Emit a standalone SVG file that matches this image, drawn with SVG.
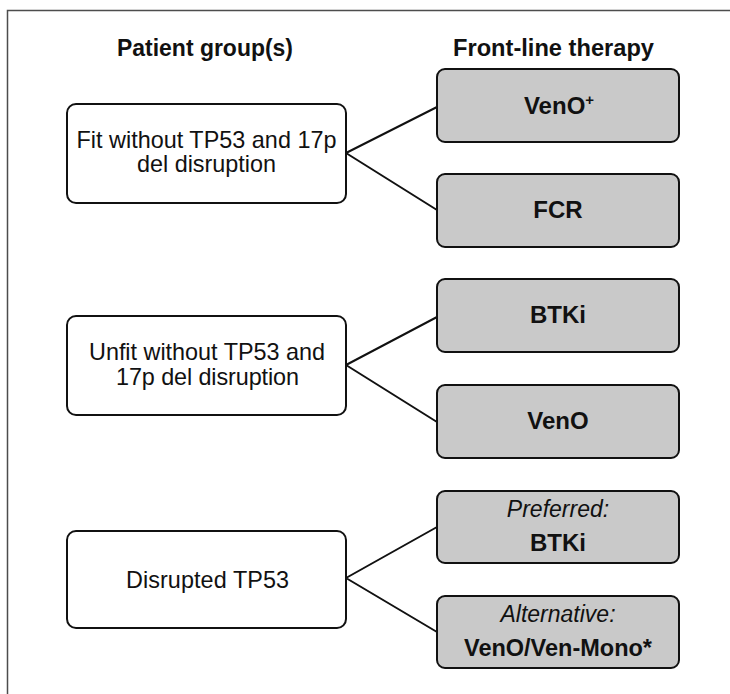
<svg xmlns="http://www.w3.org/2000/svg" width="730" height="694" viewBox="0 0 730 694">
<style>
.frame{fill:none;stroke:#4d4d4d;stroke-width:1.5}
.grp{fill:#ffffff;stroke:#111;stroke-width:2}
.thr{fill:#c9c9c9;stroke:#111;stroke-width:2}
.edge{fill:none;stroke:#111;stroke-width:2}
text{font-family:"Liberation Sans",Arial,sans-serif;fill:#111;text-anchor:middle}
.hdr{font-size:24.5px;font-weight:bold}
.lbl{font-size:23.4px}
.bld{font-size:24px;font-weight:bold}
.itl{font-size:23px;font-style:italic}
</style>
<rect width="730" height="694" fill="#ffffff"/>
<path class="frame" d="M7.5,694 V10.5 H730"/>
<g id="headers">
<text class="hdr" x="205" y="56" textLength="176" lengthAdjust="spacingAndGlyphs">Patient group(s)</text>
<text class="hdr" x="553.5" y="56" textLength="201" lengthAdjust="spacingAndGlyphs">Front-line therapy</text>
</g>
<g id="connectors">
<path class="edge" d="M346,153 L437,107 M346,153 L437,210"/>
<path class="edge" d="M346,365 L437,317 M346,365 L437,422"/>
<path class="edge" d="M346,578 L437,527 M346,578 L437,632"/>
</g>
<g id="fit">
<rect class="grp" x="67" y="104" width="279" height="99" rx="9"/>
<text class="lbl" x="206.5" y="148" textLength="260" lengthAdjust="spacing">Fit without TP53 and 17p</text>
<text class="lbl" x="206.5" y="172">del disruption</text>
</g>
<g id="unfit">
<rect class="grp" x="67" y="316" width="279" height="99" rx="9"/>
<text class="lbl" x="207" y="360" textLength="236" lengthAdjust="spacing">Unfit without TP53 and</text>
<text class="lbl" x="207.5" y="385" textLength="183" lengthAdjust="spacing">17p del disruption</text>
</g>
<g id="disrupted">
<rect class="grp" x="67" y="531" width="279" height="97" rx="9"/>
<text class="lbl" x="207.5" y="588" textLength="163" lengthAdjust="spacing">Disrupted TP53</text>
</g>
<g id="veno-plus">
<rect class="thr" x="437" y="69" width="242" height="73" rx="8"/>
<text class="bld" x="559" y="114">VenO<tspan font-size="15" dy="-9">+</tspan></text>
</g>
<g id="fcr">
<rect class="thr" x="437" y="174" width="242" height="73" rx="8"/>
<text class="bld" x="558" y="218">FCR</text>
</g>
<g id="btki">
<rect class="thr" x="437" y="279" width="242" height="73" rx="8"/>
<text class="bld" x="558" y="323">BTKi</text>
</g>
<g id="veno">
<rect class="thr" x="437" y="385" width="242" height="73" rx="8"/>
<text class="bld" x="558" y="429">VenO</text>
</g>
<g id="preferred">
<rect class="thr" x="437" y="491" width="242" height="72" rx="8"/>
<text class="itl" x="558" y="517">Preferred:</text>
<text class="bld" x="558" y="551">BTKi</text>
</g>
<g id="alternative">
<rect class="thr" x="437" y="596" width="242" height="72" rx="8"/>
<text class="itl" x="558" y="622">Alternative:</text>
<text class="bld" x="558" y="656" textLength="188" lengthAdjust="spacingAndGlyphs">VenO/Ven-Mono*</text>
</g>
</svg>
